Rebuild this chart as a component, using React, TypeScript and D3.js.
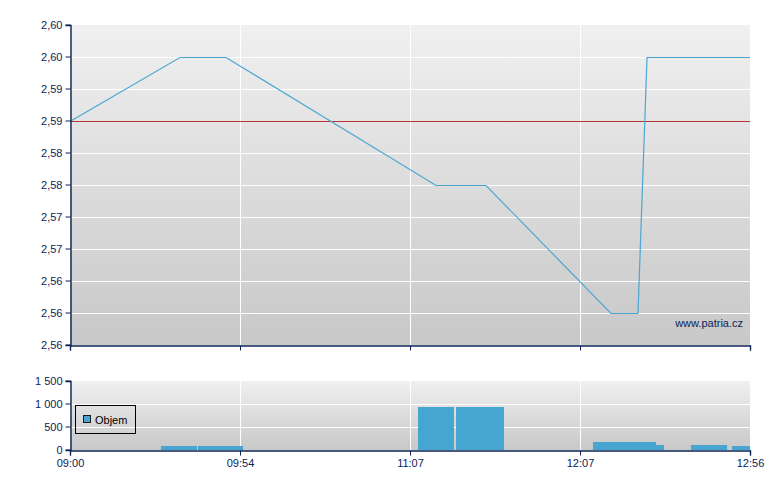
import { useEffect, useRef } from 'react';
import * as d3 from 'd3';

// time axis is equally spaced between these labels
const timeTicks = ['09:00', '09:54', '11:07', '12:07', '12:56'];

const priceTimes = ['09:00:00', '09:34:56', '09:49:33', '11:16:11', '11:33:50', '12:15:56', '12:23:43', '12:26:19', '12:56:00'];
const priceValues = [2.59, 2.6, 2.6, 2.58, 2.58, 2.56, 2.56, 2.6, 2.6];
const refPrice = 2.59;

const priceTicks = [2.555, 2.56, 2.565, 2.57, 2.575, 2.58, 2.585, 2.59, 2.595, 2.6, 2.605];
const priceTickLabels = ['2,56', '2,56', '2,56', '2,57', '2,57', '2,58', '2,58', '2,59', '2,59', '2,60', '2,60'];

const volStart = ['09:28:53', '09:40:36', '11:09:49', '11:23:14', '12:10:45', '12:28:54', '12:39:00', '12:50:49'];
const volEnd = ['09:40:18', '09:55:17', '11:22:32', '11:40:09', '12:28:54', '12:31:13', '12:49:22', '12:56:00'];
const volValues = [90, 90, 935, 935, 175, 110, 110, 90];

const volTicks = [0, 500, 1000, 1500];
const volTickLabels = ['0', '500', '1 000', '1 500'];

const W = 780;
const H = 490;
const FONT = '"Liberation Sans", Arial, sans-serif';
const NAVY = '#0c2356';

const toMin = (s: string) => {
	const [h, m, sec] = s.split(':').map(Number);
	return h * 60 + m + (sec || 0) / 60;
};

const App: React.FC = () => {
	const ref = useRef<SVGSVGElement>(null);

	useEffect(() => {
		document.body.style.margin = '0';
		if (!ref.current) return;
		const svg = d3.select(ref.current);
		svg.selectAll('*').remove();

		const left = 70;
		const right = 750;
		const top1 = 25;
		const bottom1 = 345;
		const top2 = 381;
		const bottom2 = 450;

		const defs = svg.append('defs');
		const grad = defs
			.append('linearGradient')
			.attr('id', 'bg')
			.attr('x1', 0)
			.attr('y1', 0)
			.attr('x2', 0)
			.attr('y2', 1);
		grad.append('stop').attr('offset', '0%').attr('stop-color', '#f0f0f0');
		grad.append('stop').attr('offset', '100%').attr('stop-color', '#c8c8c8');

		const x = d3
			.scaleLinear()
			.domain(timeTicks.map(toMin))
			.range(timeTicks.map((_, i) => left + (i * (right - left)) / (timeTicks.length - 1)));

		const y1 = d3
			.scaleLinear()
			.domain([priceTicks[0], priceTicks[priceTicks.length - 1]])
			.range([bottom1, top1]);

		const y2 = d3
			.scaleLinear()
			.domain([0, volTicks[volTicks.length - 1]])
			.range([bottom2, top2]);

		const crisp = (v: number) => Math.round(v) + 0.5;

		const panel = (top: number, bottom: number, ys: number[]) => {
			const g = svg.append('g');
			g.append('rect')
				.attr('x', left)
				.attr('y', top)
				.attr('width', right - left)
				.attr('height', bottom - top)
				.attr('fill', 'url(#bg)');
			ys.forEach((yy) => {
				g.append('line')
					.attr('x1', left)
					.attr('x2', right)
					.attr('y1', crisp(yy))
					.attr('y2', crisp(yy))
					.attr('stroke', '#ffffff');
			});
			timeTicks.slice(1, -1).forEach((t) => {
				g.append('line')
					.attr('x1', crisp(x(toMin(t))))
					.attr('x2', crisp(x(toMin(t))))
					.attr('y1', top)
					.attr('y2', bottom)
					.attr('stroke', '#ffffff');
			});
			return g;
		};

		// price panel
		panel(
			top1,
			bottom1,
			priceTicks.slice(1, -1).map((v) => y1(v))
		);

		svg.append('line')
			.attr('x1', left)
			.attr('x2', right)
			.attr('y1', crisp(y1(refPrice)))
			.attr('y2', crisp(y1(refPrice)))
			.attr('stroke', '#b53434')
			.attr('stroke-width', 1);

		const line = d3
			.line<number>()
			.x((_, i) => x(toMin(priceTimes[i])))
			.y((d) => y1(d) + 0.5);

		svg.append('path')
			.datum(priceValues)
			.attr('d', line)
			.attr('fill', 'none')
			.attr('stroke', '#4ba6d2')
			.attr('stroke-width', 1.2);

		svg.append('text')
			.attr('x', 743)
			.attr('y', 327)
			.attr('text-anchor', 'end')
			.style('font-family', FONT)
			.style('font-size', '11px')
			.style('fill', NAVY)
			.text('www.patria.cz');

		// volume panel
		panel(
			top2,
			bottom2,
			volTicks.slice(1, -1).map((v) => y2(v))
		);

		svg.append('g')
			.selectAll('rect')
			.data(volValues)
			.join('rect')
			.attr('x', (_, i) => Math.round(x(toMin(volStart[i]))))
			.attr('width', (_, i) => Math.round(x(toMin(volEnd[i]))) - Math.round(x(toMin(volStart[i]))))
			.attr('y', (d) => Math.round(y2(d)))
			.attr('height', (d) => bottom2 - Math.round(y2(d)))
			.attr('fill', '#46a6cf');

		// axes
		const axisY = (scale: d3.ScaleLinear<number, number>, ticks: number[], labels: string[]) => {
			const g = svg.append('g').attr('transform', `translate(${left + 0.5},0)`);
			const ax = d3
				.axisLeft(scale)
				.tickValues(ticks)
				.tickSize(5)
				.tickPadding(3)
				.tickFormat((_, i) => labels[i]);
			g.call(ax);
			g.selectAll('.tick').attr('transform', (d) => `translate(0,${crisp(scale(d as number)) - 0.5})`);
			g.select('.domain').attr('stroke', NAVY).attr('stroke-width', 1.4);
			g.selectAll('.tick line').attr('stroke', NAVY);
			g.selectAll('.tick text').style('font-family', FONT).style('font-size', '11px').style('fill', NAVY);
		};

		const axisX = (yPos: number, withLabels: boolean) => {
			const g = svg.append('g').attr('transform', `translate(0,${yPos + 0.5})`);
			const ax = d3
				.axisBottom(x)
				.tickValues(timeTicks.map(toMin))
				.tickSize(5)
				.tickPadding(4)
				.tickFormat((_, i) => (withLabels ? timeTicks[i] : ''));
			g.call(ax);
			g.selectAll('.tick').attr('transform', (d) => `translate(${crisp(x(d as number))},0)`);
			g.select('.domain').attr('stroke', NAVY).attr('stroke-width', 1.4);
			g.selectAll('.tick line').attr('stroke', NAVY);
			g.selectAll('.tick text').style('font-family', FONT).style('font-size', '11px').style('fill', NAVY);
		};

		axisY(y1, priceTicks, priceTickLabels);
		axisX(bottom1, false);
		axisY(y2, volTicks, volTickLabels);
		axisX(bottom2, true);

		// legend
		const lg = svg.append('g');
		lg.append('rect')
			.attr('x', 75.5)
			.attr('y', 405.5)
			.attr('width', 60)
			.attr('height', 28)
			.attr('fill', 'none')
			.attr('stroke', '#000000');
		lg.append('rect')
			.attr('x', 83.5)
			.attr('y', 415.5)
			.attr('width', 7)
			.attr('height', 7)
			.attr('fill', '#46a6cf')
			.attr('stroke', '#1a1a1a');
		lg.append('text')
			.attr('x', 95)
			.attr('y', 424)
			.style('font-family', FONT)
			.style('font-size', '11px')
			.style('fill', '#000000')
			.text('Objem');
	}, []);

	return <svg ref={ref} width={W} height={H} style={{ display: 'block', background: '#ffffff' }}></svg>;
};

export default App;
